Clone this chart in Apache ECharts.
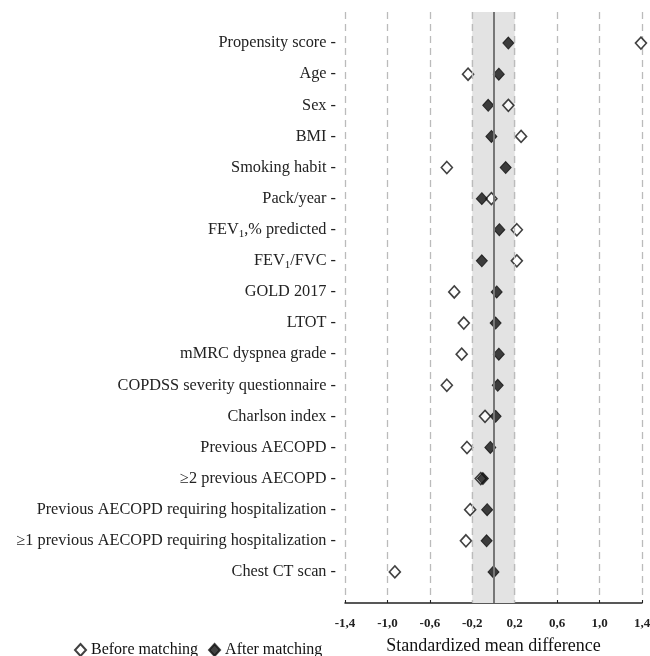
<!DOCTYPE html>
<html>
<head>
<meta charset="utf-8">
<script src="https://cdn.jsdelivr.net/npm/echarts@6/dist/echarts.min.js"></script>
<style>
  html, body { margin: 0; padding: 0; background: #fff; }
  #main { width: 650px; height: 656px; }
</style>
</head>
<body>
<div id="main"></div>
<script>
// variables, top to bottom
var variables = ['Propensity score', 'Age', 'Sex', 'BMI', 'Smoking habit', 'Pack/year',
  'FEV1,% predicted', 'FEV1/FVC', 'GOLD 2017', 'LTOT', 'mMRC dyspnea grade',
  'COPDSS severity questionnaire', 'Charlson index', 'Previous AECOPD',
  '\u22652 previous AECOPD', 'Previous AECOPD requiring hospitalization',
  '\u22651 previous AECOPD requiring hospitalization', 'Chest CT scan'];

var beforeMatching = [1.39, -0.24, 0.14, 0.26, -0.44, -0.02, 0.22, 0.22, -0.37, -0.28,
  -0.30, -0.44, -0.08, -0.25, -0.12, -0.22, -0.26, -0.93];
var afterMatching = [0.14, 0.05, -0.05, -0.02, 0.115, -0.11, 0.055, -0.11, 0.03, 0.02,
  0.05, 0.04, 0.02, -0.03, -0.10, -0.06, -0.065, 0.00];

var xTicks = ['-1,4', '-1,0', '-0,6', '-0,2', '0,2', '0,6', '1,0', '1,4'];

function pairs(vals) {
  return vals.map(function (v, i) { return [v, i + 1]; });
}

var serif = '"Liberation Serif", "Times New Roman", serif';
var dash = { color: '#bbb', type: [7, 5], width: 1.3 };

var myChart = echarts.init(document.getElementById('main'));

var option = {
  animation: false,
  backgroundColor: '#fff',
  grid: { left: 345, right: 8, top: 12, bottom: 53, outerBoundsMode: 'none' },
  legend: {
    left: 69,
    top: 637,
    itemWidth: 11,
    itemHeight: 12,
    itemGap: 10,
    textStyle: { fontFamily: serif, fontSize: 16, color: '#111' },
    data: [
      { name: 'Before matching', icon: 'diamond' },
      { name: 'After matching', icon: 'diamond' }
    ]
  },
  xAxis: {
    type: 'value',
    min: -1.4,
    max: 1.4,
    interval: 0.4,
    name: 'Standardized mean difference',
    nameLocation: 'middle',
    nameGap: 34,
    nameTextStyle: { fontFamily: serif, fontSize: 18, color: '#111' },
    axisLine: { show: true, onZero: false, lineStyle: { color: '#222', width: 1.5 } },
    axisTick: { show: true, inside: true, length: 3, lineStyle: { color: '#222' } },
    axisLabel: {
      fontFamily: serif, fontSize: 13, fontWeight: 'bold', color: '#222', margin: 14,
      formatter: function (v) {
        var i = Math.round((v + 1.4) / 0.4);
        return xTicks[i] || '';
      }
    },
    splitLine: { show: true, lineStyle: dash }
  },
  yAxis: {
    type: 'value',
    inverse: true,
    min: 0,
    max: 19,
    interval: 1,
    axisLine: { show: false },
    axisTick: { show: false },
    splitLine: { show: false },
    axisLabel: {
      margin: 9,
      fontFamily: serif, fontSize: 16.3, color: '#222',
      formatter: function (v) {
        var name = variables[v - 1];
        if (!name) return '';
        if (name.indexOf('FEV1') === 0) {
          return '{n|FEV}{s|1}{n|' + name.slice(4) + ' -}';
        }
        return name + ' -';
      },
      rich: {
        n: { fontFamily: serif, fontSize: 16.3, color: '#222' },
        s: { fontFamily: serif, fontSize: 11, color: '#222', verticalAlign: 'bottom', padding: [9, 0, 0, 0] }
      }
    }
  },
  series: [
    {
      // shaded +-0.2 band and zero line, drawn under the markers
      name: 'band',
      type: 'scatter',
      data: [],
      z: 1,
      markArea: {
        silent: true,
        itemStyle: { color: '#e3e3e3' },
        data: [[{ xAxis: -0.2 }, { xAxis: 0.2 }]]
      },
      markLine: {
        silent: true,
        symbol: 'none',
        label: { show: false },
        data: [
          { xAxis: -0.2, lineStyle: dash },
          { xAxis: 0.2, lineStyle: dash },
          { xAxis: 0, lineStyle: { color: '#777', type: 'solid', width: 2 } }
        ]
      }
    },
    {
      name: 'Before matching',
      type: 'scatter',
      symbol: 'diamond',
      symbolSize: [11, 12],
      itemStyle: { color: '#fff', borderColor: '#111', borderWidth: 1.6 },
      data: pairs(beforeMatching),
      z: 3
    },
    {
      name: 'After matching',
      type: 'scatter',
      symbol: 'diamond',
      symbolSize: [11, 12],
      itemStyle: { color: '#111', borderColor: '#111', borderWidth: 1 },
      data: pairs(afterMatching),
      z: 4
    }
  ]
};

myChart.setOption(option);
</script>
</body>
</html>
